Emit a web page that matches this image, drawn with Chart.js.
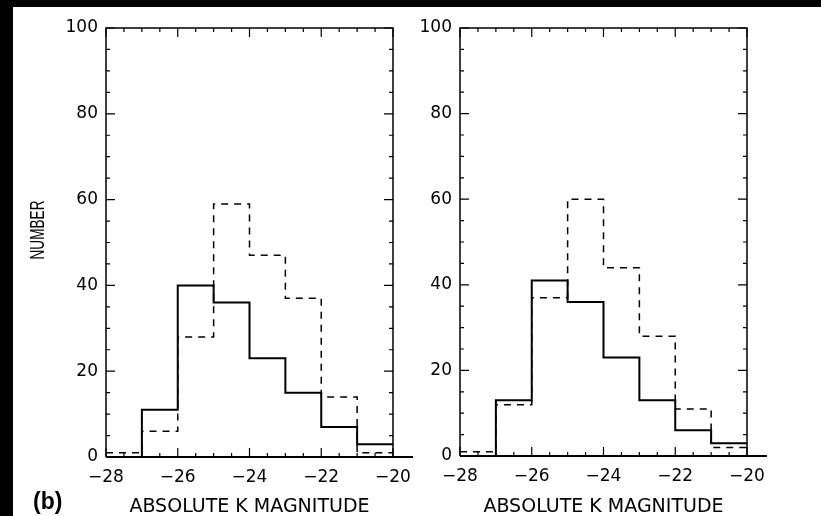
<!DOCTYPE html>
<html><head><meta charset="utf-8">
<script src="https://cdn.jsdelivr.net/npm/chart.js@4.4.1/dist/chart.umd.min.js"></script>
<style>
html,body{margin:0;padding:0;background:#fff;width:821px;height:516px;overflow:hidden;position:relative}
#c1{position:absolute;left:0;top:0}
#c2{position:absolute;left:420px;top:0}
.band{position:absolute;background:#000;z-index:5}
#panel{position:absolute;left:33px;top:487px;font:bold 23px "Liberation Sans",Arial,sans-serif;line-height:28px;color:#000}
#ytitle{position:absolute;left:37px;top:230px;width:120px;height:24px;margin-left:-60px;margin-top:-12px;
  text-align:center;font:20px "Liberation Sans",Arial,sans-serif;line-height:24px;color:#000;
  transform:rotate(-90deg) scaleX(0.68);}
</style></head><body>
<div class="band" style="left:0;top:0;width:821px;height:7px"></div>
<div class="band" style="left:0;top:0;width:13px;height:516px"></div>
<canvas id="c1" width="425" height="516"></canvas>
<canvas id="c2" width="401" height="516"></canvas>
<div id="ytitle">NUMBER</div>
<div id="panel">(b)</div>
<script>
// bin edges (absolute K magnitude), 1-mag bins from -28 to -20
const binEdges = [-28, -27, -26, -25, -24, -23, -22, -21, -20];
// left panel
const leftSolid  = [0, 11, 40, 36, 23, 15, 7, 3];
const leftDashed = [1, 6, 28, 59, 47, 37, 14, 1];
// right panel
const rightSolid  = [0, 13, 41, 36, 23, 13, 6, 3];
const rightDashed = [1, 12, 37, 60, 44, 28, 11, 2];
// axis ticks
const xTicks = [-28, -26, -24, -22, -20];
const yTicks = [0, 20, 40, 60, 80, 100];
const xTitle = 'ABSOLUTE K MAGNITUDE';

// step points: bin i value starts at edge i; closing point at the last edge
function stepPoints(vals) {
  const pts = vals.map((v, i) => ({x: binEdges[i], y: v}));
  pts.push({x: binEdges[binEdges.length - 1], y: vals[vals.length - 1]});
  return pts;
}

const frameTicks = {
  id: 'frameTicks',
  afterDatasetsDraw(chart) {
    const {ctx, chartArea: a, scales: {x, y}} = chart;
    ctx.save();
    ctx.strokeStyle = '#000';
    ctx.lineWidth = 1.5;
    ctx.beginPath();
    ctx.moveTo(a.left, a.bottom); ctx.lineTo(a.left, a.top);
    ctx.lineTo(a.right, a.top); ctx.lineTo(a.right, a.bottom);
    ctx.stroke();
    ctx.lineWidth = 2;
    ctx.beginPath(); ctx.moveTo(a.left, a.bottom); ctx.lineTo(a.right + 20, a.bottom); ctx.stroke();
    ctx.lineWidth = 1.2;
    ctx.beginPath();
    for (let v = x.min; v <= x.max + 1e-9; v += 0.5) {
      const px = x.getPixelForValue(v);
      const L = xTicks.some(t => Math.abs(t - v) < 1e-9) ? 9 : 4;
      ctx.moveTo(px, a.bottom); ctx.lineTo(px, a.bottom - L);
      ctx.moveTo(px, a.top); ctx.lineTo(px, a.top + L);
    }
    for (let v = y.min; v <= y.max + 1e-9; v += 5) {
      const py = y.getPixelForValue(v);
      const L = yTicks.includes(v) ? 9 : 4;
      ctx.moveTo(a.left, py); ctx.lineTo(a.left + L, py);
      ctx.moveTo(a.right, py); ctx.lineTo(a.right - L, py);
    }
    ctx.stroke();
    ctx.restore();
  }
};

function makeChart(id, solid, dashed, opts) {
  return new Chart(document.getElementById(id), {
    type: 'line',
    data: {
      datasets: [
        {data: stepPoints(dashed), stepped: 'before', borderColor: '#000', borderWidth: 1.5,
         borderDash: [7, 6], pointRadius: 0, fill: false},
        {data: stepPoints(solid), stepped: 'before', borderColor: '#000', borderWidth: 2,
         pointRadius: 0, fill: false}
      ]
    },
    options: {
      responsive: false, animation: false, devicePixelRatio: 1,
      layout: {padding: {top: 28, right: opts.right, bottom: 0, left: 0}},
      plugins: {legend: {display: false}, tooltip: {enabled: false}},
      scales: {
        x: {
          type: 'linear', min: -28, max: -20,
          grid: {display: false, drawTicks: false}, border: {display: false},
          afterBuildTicks: s => { s.ticks = xTicks.map(v => ({value: v})); },
          afterFit: s => { s.height = opts.xh; },
          ticks: {color: '#000', padding: 10, maxRotation: 0,
            font: {family: 'DejaVu Sans', size: 17},
            callback: v => v < 0 ? '\u2212' + Math.abs(v) : String(v)},
          title: {display: true, text: xTitle, color: '#000',
            font: {family: 'DejaVu Sans', size: 19}, padding: {top: 0, bottom: -2}}
        },
        y: {
          type: 'linear', min: 0, max: 100,
          grid: {display: false, drawTicks: false}, border: {display: false},
          afterBuildTicks: s => { s.ticks = yTicks.map(v => ({value: v})); },
          afterFit: s => { s.width = opts.yw; },
          ticks: {color: '#000', padding: 8, font: {family: 'DejaVu Sans', size: 17}}
        }
      }
    },
    plugins: [frameTicks]
  });
}

makeChart('c1', leftSolid, leftDashed, {right: 32, xh: 59, yw: 106});
makeChart('c2', rightSolid, rightDashed, {right: 74, xh: 60, yw: 40});
</script>
</body></html>
